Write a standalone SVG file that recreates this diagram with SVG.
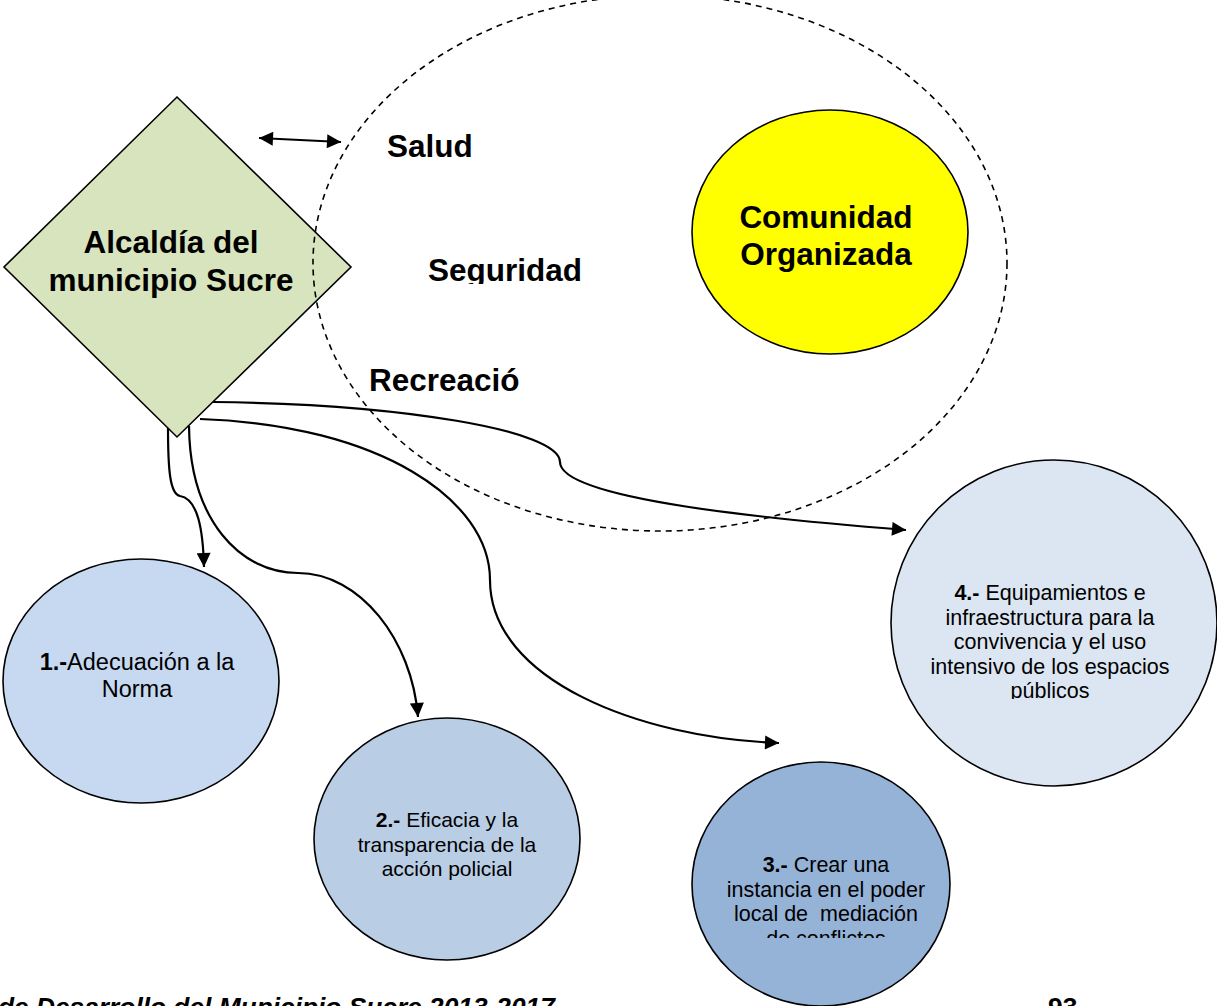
<svg xmlns="http://www.w3.org/2000/svg" width="1217" height="1006" viewBox="0 0 1217 1006">
<style>
.t{font-family:"Liberation Sans",Arial,sans-serif;fill:#000}
.b{font-weight:bold}
.big{font-size:31.5px;font-weight:bold}
.node{stroke:#000;stroke-width:1.6}
.conn{fill:none;stroke:#000;stroke-width:2.2}
</style>
<defs>
<marker id="ah" viewBox="0 0 10 10" refX="10" refY="5" markerWidth="16" markerHeight="14" markerUnits="userSpaceOnUse" orient="auto-start-reverse">
<path d="M0,0 L10,5 L0,10 z" fill="#000"/>
</marker>
<clipPath id="cSeg"><rect x="0" y="0" width="1217" height="284"/></clipPath>
<clipPath id="c3"><rect x="0" y="0" width="1217" height="938"/></clipPath>
<clipPath id="c4"><rect x="0" y="0" width="1217" height="699"/></clipPath>
</defs>
<rect width="1217" height="1006" fill="#fff"/>

<g id="alcaldia">
<polygon class="node" points="177,97 351,267 177,437 4,267" fill="#d7e4bd"/>
<text class="t big" text-anchor="middle" x="171" y="253">Alcaldía del</text>
<text class="t big" text-anchor="middle" x="171" y="291">municipio Sucre</text>
</g>

<g id="comunidad">
<ellipse class="node" cx="830" cy="232" rx="138" ry="122" fill="#ffff00"/>
<text class="t big" text-anchor="middle" x="826" y="228">Comunidad</text>
<text class="t big" text-anchor="middle" x="826" y="265">Organizada</text>
</g>

<g id="ambito">
<ellipse cx="660" cy="263" rx="347" ry="268" fill="none" stroke="#000" stroke-width="1.6" stroke-dasharray="6 5"/>
<text class="t big" x="387" y="157">Salud</text>
<text class="t big" x="428" y="281" clip-path="url(#cSeg)">Seguridad</text>
<text class="t big" x="369" y="391">Recreació</text>
</g>

<g id="n1">
<ellipse class="node" cx="141" cy="681" rx="138" ry="122" fill="#c6d9f1"/>
<text class="t" text-anchor="middle" x="137" y="670" font-size="23.5"><tspan class="b">1.-</tspan>Adecuación a la</text>
<text class="t" text-anchor="middle" x="137" y="697" font-size="23.5">Norma</text>
</g>

<g id="n2">
<ellipse class="node" cx="447" cy="839" rx="133" ry="121" fill="#b9cde5"/>
<g class="t" text-anchor="middle" font-size="21">
<text x="447" y="827"><tspan class="b">2.-</tspan> Eficacia y la</text>
<text x="447" y="851.5">transparencia de la</text>
<text x="447" y="876">acción policial</text>
</g>
</g>

<g id="n3">
<ellipse class="node" cx="821" cy="884" rx="129" ry="122" fill="#95b3d7"/>
<g class="t" text-anchor="middle" font-size="21.5" clip-path="url(#c3)">
<text x="826" y="872"><tspan class="b">3.-</tspan> Crear una</text>
<text x="826" y="896.5">instancia en el poder</text>
<text x="826" y="921" xml:space="preserve">local de  mediación</text>
<text x="826" y="945.5">de conflictos</text>
</g>
</g>

<g id="n4">
<ellipse class="node" cx="1054" cy="623" rx="163" ry="163" fill="#dce6f2"/>
<g class="t" text-anchor="middle" font-size="21.5" clip-path="url(#c4)">
<text x="1050" y="600"><tspan class="b">4.-</tspan> Equipamientos e</text>
<text x="1050" y="624.5">infraestructura para la</text>
<text x="1050" y="649">convivencia y el uso</text>
<text x="1050" y="673.5">intensivo de los espacios</text>
<text x="1050" y="698">públicos</text>
</g>
</g>

<g id="connectors">
<line class="conn" x1="259" y1="138" x2="341" y2="142" marker-start="url(#ah)" marker-end="url(#ah)"/>
<path class="conn" d="M168,428 C168,470 170,494 180,496 C198,499 203,530 204,567" marker-end="url(#ah)"/>
<path class="conn" d="M189,426 C190,520 240,573 298,573 C360,573 412,640 418,717" marker-end="url(#ah)"/>
<path class="conn" d="M200,419 C380,425 490,500 490,580 C490,680 640,738 779,743" marker-end="url(#ah)"/>
<path class="conn" d="M213,402 C400,404 560,430 560,462 C560,500 780,520 906,530" marker-end="url(#ah)"/>
</g>

<g id="footer">
<text class="t b" x="-2" y="1016" font-size="26.3" font-style="italic">de Desarrollo del Municipio Sucre 2013-2017</text>
<text class="t b" x="1048" y="1016" font-size="26.3">93</text>
</g>
</svg>
